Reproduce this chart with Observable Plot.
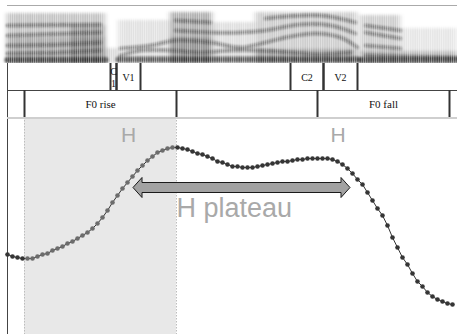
<!DOCTYPE html>
<html><head><meta charset="utf-8">
<script src="https://cdn.jsdelivr.net/npm/d3@7"></script>
<script src="https://cdn.jsdelivr.net/npm/@observablehq/plot@0.6"></script>
<style>
body{margin:0;background:#fff;}
#fig{position:relative;width:457px;height:334px;overflow:hidden;background:#fff;}
#fig > svg{position:absolute;left:0;}
</style></head><body>
<div id="fig"></div>
<script>
// ---------- DATA ----------
// time axis in seconds, pitch track sampled every 10 ms
const duration = 0.9;
const f0Step = 0.01;
// F0 (Hz)
const f0Hz = [140,138,137,136,136,136,138,140,141,144,
              146,148,151,153,156,159,162,166,171,177,
              184,192,199,206,212,218,224,229,234,238,
              242,244,246,247,247,246,245,243,241,240,
              238,236,233,232,230,228,228,227,227,227,
              228,229,230,231,232,233,233,234,235,235,
              236,236,236,236,236,235,233,230,226,221,
              215,210,202,194,186,179,169,157,147,137,
              130,121,113,108,102,98,95,93,91,90];
const f0Domain = [60, 277];

// segmentation tiers (boundaries in s)
const tier1Intervals = [
  {label: "C\n1", start: 0.206, end: 0.218},
  {label: "V1",   start: 0.218, end: 0.266},
  {label: "C2",   start: 0.566, end: 0.632},
  {label: "V2",   start: 0.632, end: 0.700}
];
const tier2Intervals = [
  {label: "F0 rise", start: 0.034, end: 0.338},
  {label: "F0 fall", start: 0.620, end: 0.884}
];

// highlighted H region
const shadeStart = 0.034, shadeEnd = 0.338;
const hLabels = [{text: "H", t: 0.242, hz: 259}, {text: "H", t: 0.661, hz: 259}];
const plateauLabel = [{text: "H plateau", t: 0.338, hz: 186.5}];
const arrowFrom = 0.252, arrowTo = 0.686, arrowHz = 206.5;

// spectrogram sketch: energy blocks (s, Hz, darkness) and formant tracks
const specMaxHz = 5800;
const energyBlocks = [
  {t1: 0.000, t2: 0.196, hz: 5000, a: 0.24},
  {t1: 0.000, t2: 0.196, hz: 2600, a: 0.14},
  {t1: 0.126, t2: 0.196, hz: 3800, a: 0.22},
  {t1: 0.196, t2: 0.222, hz: 1500, a: 0.15},
  {t1: 0.222, t2: 0.326, hz: 4300, a: 0.12},
  {t1: 0.326, t2: 0.410, hz: 5100, a: 0.32},
  {t1: 0.326, t2: 0.410, hz: 2600, a: 0.18},
  {t1: 0.410, t2: 0.496, hz: 4100, a: 0.13},
  {t1: 0.496, t2: 0.700, hz: 5100, a: 0.20},
  {t1: 0.496, t2: 0.700, hz: 1400, a: 0.22},
  {t1: 0.706, t2: 0.786, hz: 4800, a: 0.20},
  {t1: 0.706, t2: 0.900, hz: 1200, a: 0.20},
  {t1: 0.786, t2: 0.900, hz: 3500, a: 0.10}
];
const voiceBar = [
  {id: "v1", pts: [[0, 350], [0.196, 350]]},
  {id: "v2", pts: [[0.222, 400], [0.70, 400]]},
  {id: "v3", pts: [[0.706, 350], [0.9, 350]]}
];
const formants = [
  {id: "F1a", pts: [[0, 1000], [0.106, 1100], [0.186, 1300]]},
  {id: "F1b", pts: [[0.226, 800], [0.266, 1300], [0.326, 1300], [0.386, 1100], [0.446, 1300], [0.506, 1300], [0.566, 1100], [0.626, 900], [0.686, 1100]]},
  {id: "F1c", pts: [[0.716, 800], [0.786, 700], [0.9, 600]]},
  {id: "F2a", pts: [[0, 1800], [0.106, 1900], [0.186, 2100]]},
  {id: "F2b", pts: [[0.226, 1500], [0.286, 1800], [0.336, 2300], [0.406, 2100], [0.466, 1600], [0.516, 2100], [0.566, 2700], [0.616, 3000], [0.666, 2600], [0.70, 1600]]},
  {id: "F2c", pts: [[0.716, 1800], [0.786, 1500]]},
  {id: "F3a", pts: [[0, 2800], [0.186, 3100]]},
  {id: "F3b", pts: [[0.336, 3300], [0.406, 3100], [0.466, 3100], [0.516, 3300], [0.586, 3900], [0.646, 3800], [0.696, 3000]]},
  {id: "F3c", pts: [[0.716, 3100], [0.786, 2500]]},
  {id: "F4a", pts: [[0, 3800], [0.186, 3900]]},
  {id: "F4b", pts: [[0.336, 4300], [0.406, 4100]]},
  {id: "F4c", pts: [[0.516, 4500], [0.626, 4800], [0.696, 4100]]},
  {id: "F4d", pts: [[0.716, 3800], [0.786, 3300]]}
];

// ---------- BUILD ----------
const W = 457;
const xScale = {domain: [0, duration]};
const flat = tracks => tracks.flatMap(d => d.pts.map(([t, hz]) => ({id: d.id, t, hz})));
const fig = document.getElementById("fig");

// spectrogram
const spec = Plot.plot({
  width: W, height: 63, marginLeft: 7, marginRight: 0, marginTop: 5, marginBottom: 0,
  x: {...xScale, axis: null}, y: {domain: [0, specMaxHz], axis: null},
  marks: [
    Plot.rect(energyBlocks, {x1: "t1", x2: "t2", y1: 0, y2: "hz", fill: "#000", fillOpacity: "a"}),
    Plot.line(flat(formants), {x: "t", y: "hz", z: "id", stroke: "#111", strokeOpacity: 0.45, strokeWidth: 3.5, curve: "catmull-rom"}),
    Plot.line(flat(voiceBar), {x: "t", y: "hz", z: "id", stroke: "#000", strokeOpacity: 0.6, strokeWidth: 6}),
    Plot.rect([0], {x1: 0, x2: duration, y1: 0, y2: specMaxHz, fill: "url(#striae)"}),
    Plot.ruleY([specMaxHz], {stroke: "#aaa"})
  ]
});
spec.style.top = "0px";
fig.appendChild(spec);
const sp = d3.select(spec);
sp.insert("defs", ":first-child").html(
  '<pattern id="striae" width="2.2" height="10" patternUnits="userSpaceOnUse"><rect x="0" y="0" width="0.9" height="10" fill="#fff" fill-opacity="0.45"/></pattern>' +
  '<filter id="softBig" filterUnits="userSpaceOnUse" x="0" y="0" width="460" height="70"><feGaussianBlur stdDeviation="2.5 1.8"/></filter>' +
  '<filter id="softSmall" filterUnits="userSpaceOnUse" x="0" y="0" width="460" height="70"><feGaussianBlur stdDeviation="1"/></filter>');
const rectGroups = spec.querySelectorAll('g[aria-label="rect"]');
if (rectGroups.length) rectGroups[0].setAttribute("filter", "url(#softBig)");
spec.querySelectorAll('g[aria-label="line"]').forEach(g => g.setAttribute("filter", "url(#softSmall)"));

// tiers
const tiers = Plot.plot({
  width: W, height: 54, marginLeft: 7, marginRight: 0, marginTop: 0, marginBottom: 0,
  x: {...xScale, axis: null}, y: {domain: [0, 2], reverse: true, axis: null},
  marks: [
    Plot.ruleX([0], {stroke: "#444"}),
    Plot.ruleY([1], {stroke: "#444"}),
    Plot.ruleX(tier1Intervals.flatMap(d => [d.start, d.end]), {y1: 0, y2: 1, stroke: "#333", strokeWidth: 2}),
    Plot.ruleX(tier2Intervals.flatMap(d => [d.start, d.end]), {y1: 1, y2: 2, stroke: "#333", strokeWidth: 2}),
    Plot.text(tier1Intervals, {x: d => (d.start + d.end) / 2, y: 0.5, text: "label", fontFamily: "Liberation Serif", fontSize: 10, lineHeight: 1.2, fill: "#111"}),
    Plot.text(tier2Intervals, {x: d => (d.start + d.end) / 2, y: 1.5, text: "label", fontFamily: "Liberation Serif", fontSize: 11, fill: "#111"})
  ]
});
tiers.style.top = "63px";
fig.appendChild(tiers);

// F0 panel
const f0 = f0Hz.map((hz, i) => ({t: i * f0Step, hz}));
const arrowMark = (index, scales) => {
  const x1 = scales.x(arrowFrom), x2 = scales.x(arrowTo), yc = scales.y(arrowHz);
  const hl = 9, hh = 10, sh = 5;
  const pts = [[x1, yc], [x1 + hl, yc - hh], [x1 + hl, yc - sh], [x2 - hl, yc - sh], [x2 - hl, yc - hh], [x2, yc],
               [x2 - hl, yc + hh], [x2 - hl, yc + sh], [x1 + hl, yc + sh], [x1 + hl, yc + hh]];
  return d3.create("svg:path").attr("d", "M" + pts.join("L") + "Z")
    .attr("fill", "#a2a2a2").attr("stroke", "#1a1a1a").attr("stroke-width", 1).node();
};
const f0Plot = Plot.plot({
  width: W, height: 217, marginLeft: 7, marginRight: 0, marginTop: 0, marginBottom: 0,
  x: {...xScale, axis: null}, y: {domain: f0Domain, axis: null},
  color: {type: "identity"},
  marks: [
    Plot.rect([0], {x1: shadeStart, x2: shadeEnd, fill: "#e8e8e8"}),
    Plot.ruleX([shadeStart, shadeEnd], {stroke: "#bdbdbd", strokeDasharray: "1.5,1.5"}),
    Plot.ruleX([0], {stroke: "#444"}),
    Plot.ruleY([f0Domain[1]], {stroke: "#cfcfcf", strokeWidth: 3}),
    Plot.line(f0, {x: "t", y: "hz", stroke: "#333", strokeWidth: 1}),
    Plot.dot(f0, {x: "t", y: "hz", r: 2.3, stroke: "none",
      fill: d => (d.t >= shadeStart && d.t <= shadeEnd) ? "#6c6c6c" : "#353535"}),
    arrowMark,
    Plot.text(hLabels, {x: "t", y: "hz", text: "text", fontFamily: "Liberation Sans", fontSize: 21, fill: "#a9a9a9"}),
    Plot.text(plateauLabel, {x: "t", y: "hz", text: "text", textAnchor: "start", fontFamily: "Liberation Sans", fontSize: 27, fill: "#a9a9a9"})
  ]
});
f0Plot.style.top = "117px";
fig.appendChild(f0Plot);
</script>
</body></html>
